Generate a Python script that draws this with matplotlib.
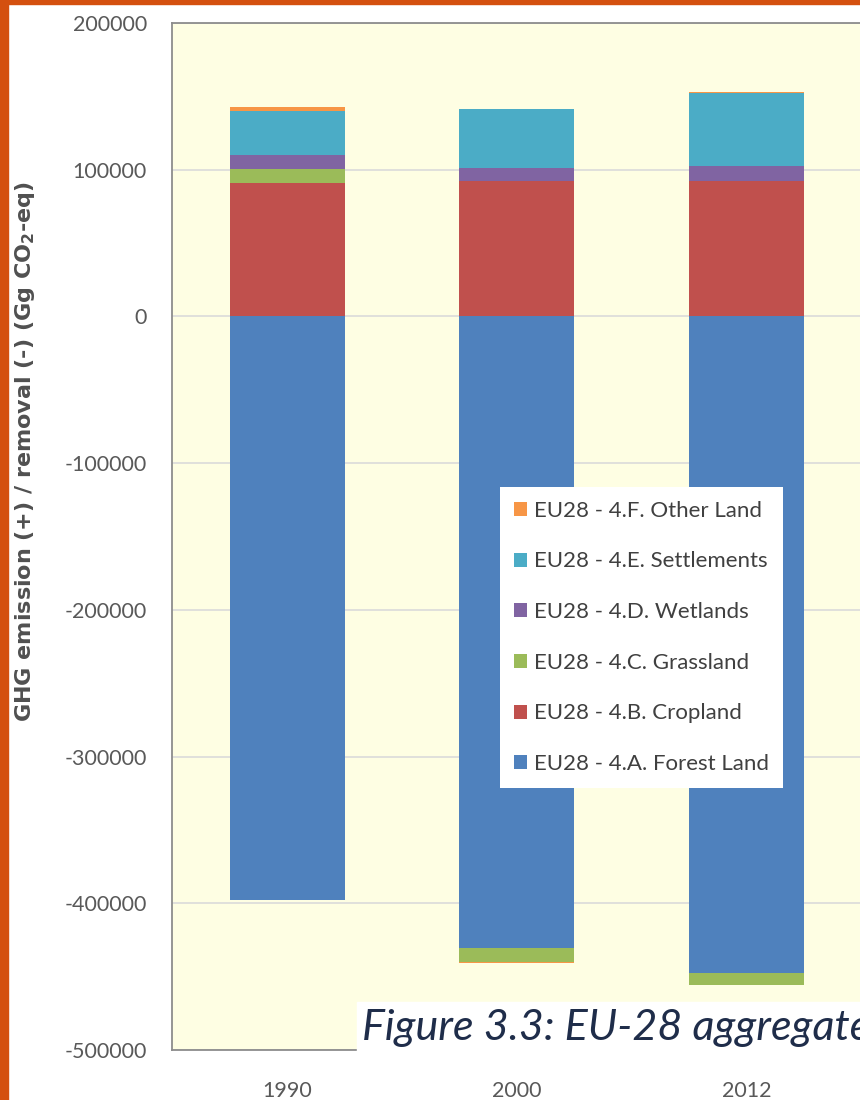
import numpy as np
import matplotlib
matplotlib.use("Agg")
import matplotlib.pyplot as plt
from matplotlib.patches import Patch, Rectangle

# ---- data (Gg CO2-eq) ----
YEARS = ["1990", "2000", "2012"]
FOREST = [-398000, -430500, -447500]
CROPLAND = [91000, 92500, 92500]
GRASSLAND = [9500, -9500, -8200]
WETLANDS = [9500, 8800, 10200]
SETTLEMENTS = [30000, 40000, 49700]
OTHER = [2700, -1000, 500]

SERIES = [
    ("EU28 - 4.A. Forest Land", FOREST, "#4F81BD"),
    ("EU28 - 4.B. Cropland", CROPLAND, "#C0504D"),
    ("EU28 - 4.C. Grassland", GRASSLAND, "#9BBB59"),
    ("EU28 - 4.D. Wetlands", WETLANDS, "#8064A2"),
    ("EU28 - 4.E. Settlements", SETTLEMENTS, "#4BACC6"),
    ("EU28 - 4.F. Other Land", OTHER, "#F79646"),
]
# --------------------

plt.rcParams.update({"font.family": ["Lato", "DejaVu Sans"]})
W, H = 860, 1100
fig = plt.figure(figsize=(W / 100, H / 100), dpi=100)
fig.patch.set_facecolor("white")

# axes runs past the right edge of the picture (cropped screenshot)
ax = fig.add_axes([172 / W, 1 - 1050 / H, 920 / W, (1050 - 23) / H])
ax.set_facecolor("#FEFEE3")

x = np.arange(len(YEARS))
pos_bottom = np.zeros(len(YEARS))
neg_bottom = np.zeros(len(YEARS))
for label, vals, col in SERIES:
    v = np.array(vals, dtype=float)
    bottom = np.where(v >= 0, pos_bottom, neg_bottom)
    ax.bar(x, v, width=0.5, bottom=bottom, color=col, edgecolor="none", zorder=3)
    pos_bottom += np.where(v >= 0, v, 0)
    neg_bottom += np.where(v < 0, v, 0)

ax.set_xlim(-0.5, 3.5)
ax.set_ylim(-500000, 200000)
ax.set_yticks(np.arange(-500000, 200001, 100000))
ax.set_yticklabels([f"{int(t)}" for t in ax.get_yticks()])
ax.set_xticks(x)
ax.set_xticklabels(YEARS)
ax.tick_params(axis="both", length=0, colors="#595959", labelsize=15.5)
ax.tick_params(axis="y", pad=18)
ax.tick_params(axis="x", pad=22)
ax.yaxis.grid(True, color="#DADADA", linewidth=1.2, zorder=0)
ax.set_axisbelow(True)
for s in ["left", "top", "bottom"]:
    ax.spines[s].set_color("#8C8C8C")
    ax.spines[s].set_linewidth(1.3)
ax.spines["right"].set_visible(False)

ax.set_ylabel("GHG emission (+) / removal (-) (Gg CO$_\\mathregular{2}$-eq)",
              fontsize=16, fontweight="bold", color="#505050",
              family=["DejaVu Sans"])
ax.yaxis.set_label_coords(-135 / 920, (1050 - 452) / 1027)

handles = [Patch(facecolor=c, edgecolor="none", label=l) for l, _, c in reversed(SERIES)]
leg = ax.legend(handles=handles, loc="upper left",
                bbox_to_anchor=(500 / W, 1 - 487 / H), bbox_transform=fig.transFigure,
                frameon=True, fancybox=False, framealpha=1, edgecolor="none",
                fontsize=16, labelcolor="#404040", handlelength=0.6, handleheight=0.6,
                handletextpad=0.3, labelspacing=1.38, borderpad=0.62, borderaxespad=0)
leg.set_zorder(10)

# orange slide border
fig.add_artist(Rectangle((0, 0), 8 / W, 1, transform=fig.transFigure,
                         color="#D4500F", zorder=20))
fig.add_artist(Rectangle((0, 1 - 4 / H), 1, 4 / H, transform=fig.transFigure,
                         color="#D4500F", zorder=20))

# caption box over the bottom of the chart
fig.add_artist(Rectangle((357 / W, 1 - 1066 / H), 1, 64 / H, transform=fig.transFigure,
                         color="white", zorder=15))
fig.text(362 / W, 1 - 1040 / H, "Figure 3.3: EU-28 aggregate", fontsize=31,
         style="italic", color="#1F2D4A", zorder=16, va="baseline")

fig.savefig("out.png", dpi=100)
